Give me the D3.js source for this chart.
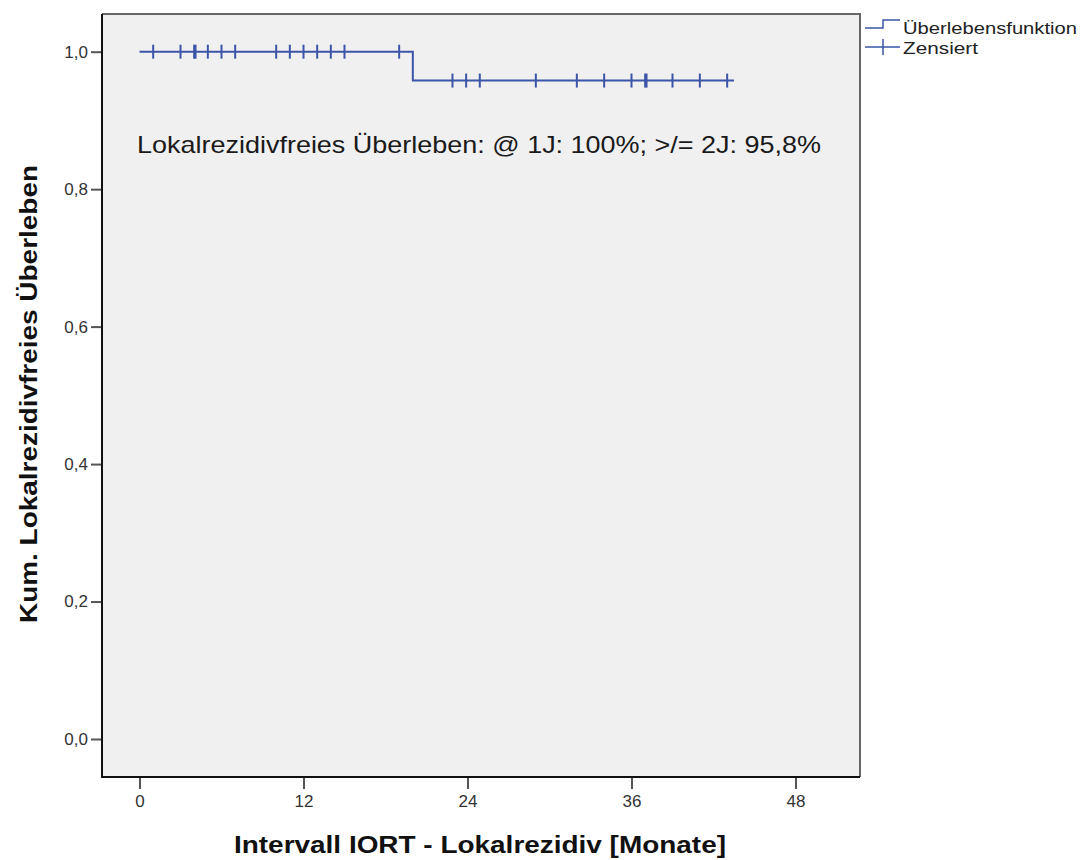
<!DOCTYPE html>
<html lang='de'>
  <head>
    <meta charset='utf-8'>
    <title>Kaplan-Meier: Lokalrezidivfreies Überleben</title>
    <script src='https://cdn.jsdelivr.net/npm/d3@7'></script>
    <style>
      body { margin: 0; background: #fff; }
      text { font-family: 'Liberation Sans', Arial, sans-serif; }
    </style>
  </head>
  <body>
    <script>
      // step function: time (months) where survival drops, and new value
      var eventTimes = [0, 20];
      var eventSurv = [1.0, 0.958];
      var endTime = 43.5;
      // censored cases (months)
      var censored = [1, 3, 4, 4.1, 5, 6, 7, 10, 11, 12, 13, 14, 15, 19,
                      22.9, 23.9, 24.9, 29, 32, 34, 36, 37, 37.1, 39, 41, 43];
      var xTicks = [0, 12, 24, 36, 48];
      var yTicks = [0, 0.2, 0.4, 0.6, 0.8, 1.0];
      var legendLabels = ['Überlebensfunktion', 'Zensiert'];

      var w = 1081, h = 860;
      var pLeft = 102, pRight = 860, pTop = 14, pBottom = 777;
      var blue = '#3d55a8';

      var svg = d3.select('body').append('svg')
                  .attr('width', w).attr('height', h);

      var x = d3.scaleLinear().domain([0, 48]).range([139.5, 795.5]);
      var y = d3.scaleLinear().domain([0, 1]).range([739, 51.7]);

      // survival value at time t
      var survAt = function(t){
        var s = eventSurv[0];
        for (var i = 0; i < eventTimes.length; i++){
          if (t >= eventTimes[i]) s = eventSurv[i];
        }
        return s;
      };

      // plot area
      svg.append('rect')
         .attr('x', pLeft).attr('y', pTop)
         .attr('width', pRight - pLeft).attr('height', pBottom - pTop)
         .attr('fill', '#f0f0f0');
      svg.append('path')
         .attr('d', 'M' + pLeft + ',' + pTop + 'H' + pRight + 'V' + pBottom)
         .attr('fill', 'none').attr('stroke', '#666').attr('stroke-width', 2);
      svg.append('path')
         .attr('d', 'M' + pLeft + ',' + pTop + 'V' + pBottom + 'H' + pRight)
         .attr('fill', 'none').attr('stroke', '#111').attr('stroke-width', 2);

      // axes
      var yAxis = svg.append('g')
         .attr('transform', 'translate(' + (pLeft - 1) + ',0)')
         .call(d3.axisLeft(y).tickValues(yTicks).tickSize(10).tickPadding(3)
               .tickFormat(function(d){ return d3.format('.1f')(d).replace('.', ','); }));
      var xAxis = svg.append('g')
         .attr('transform', 'translate(0,' + (pBottom + 1) + ')')
         .call(d3.axisBottom(x).tickValues(xTicks).tickSize(11).tickPadding(6));
      [xAxis, yAxis].forEach(function(a){
        a.select('.domain').remove();
        a.selectAll('.tick line').attr('stroke', '#555').attr('stroke-width', 2);
        a.selectAll('.tick text').attr('fill', '#333')
         .style('font-family', "'Liberation Sans', Arial, sans-serif")
         .attr('font-size', '17px');
      });

      // survival line
      var pts = [];
      eventTimes.forEach(function(t, i){ pts.push([t, eventSurv[i]]); });
      pts.push([endTime, survAt(endTime)]);
      svg.append('path')
         .datum(pts)
         .attr('d', d3.line().x(function(d){ return x(d[0]); })
                             .y(function(d){ return y(d[1]); })
                             .curve(d3.curveStepAfter))
         .attr('fill', 'none').attr('stroke', blue).attr('stroke-width', 2);

      // censor marks
      svg.selectAll('.cens')
         .data(censored)
         .enter().append('line')
         .attr('class', 'cens')
         .attr('x1', function(d){ return x(d); })
         .attr('x2', function(d){ return x(d); })
         .attr('y1', function(d){ return y(survAt(d)) - 7; })
         .attr('y2', function(d){ return y(survAt(d)) + 7; })
         .attr('stroke', blue).attr('stroke-width', 2);

      // annotation
      svg.append('text')
         .attr('x', 137).attr('y', 153)
         .attr('font-size', '24px').attr('fill', '#1a1a1a')
         .attr('textLength', 684).attr('lengthAdjust', 'spacingAndGlyphs')
         .text('Lokalrezidivfreies Überleben: @ 1J: 100%; >/= 2J: 95,8%');

      // axis titles
      svg.append('text')
         .attr('transform', 'translate(37,394) rotate(-90)')
         .attr('text-anchor', 'middle')
         .attr('font-size', '23px').attr('font-weight', 'bold').attr('fill', '#111')
         .attr('textLength', 458).attr('lengthAdjust', 'spacingAndGlyphs')
         .text('Kum. Lokalrezidivfreies Überleben');
      svg.append('text')
         .attr('x', 480).attr('y', 853)
         .attr('text-anchor', 'middle')
         .attr('font-size', '23px').attr('font-weight', 'bold').attr('fill', '#111')
         .attr('textLength', 492).attr('lengthAdjust', 'spacingAndGlyphs')
         .text('Intervall IORT - Lokalrezidiv [Monate]');

      // legend
      var lg = svg.append('g');
      lg.append('path')
        .attr('d', 'M865,28H883V20H900')
        .attr('fill', 'none').attr('stroke', blue).attr('stroke-width', 1.5);
      lg.append('path')
        .attr('d', 'M865,47H900M883,39V55')
        .attr('fill', 'none').attr('stroke', blue).attr('stroke-width', 1.5);
      var legendWidths = [174, 75];
      lg.selectAll('text')
        .data(legendLabels)
        .enter().append('text')
        .attr('x', 903)
        .attr('y', function(d, i){ return 34 + i * 20; })
        .attr('font-size', '17px').attr('fill', '#222')
        .attr('textLength', function(d, i){ return legendWidths[i]; })
        .attr('lengthAdjust', 'spacingAndGlyphs')
        .text(function(d){ return d; });
    </script>
  </body>
</html>
